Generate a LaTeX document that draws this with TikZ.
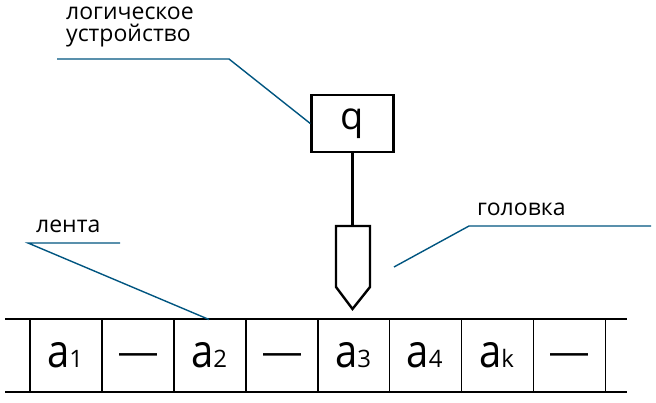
\documentclass[tikz,border=0pt]{standalone}
\usepackage{fontspec}
\setmainfont{Open Sans}
\newfontfamily\dashfont{Liberation Sans}
\definecolor{leaderblue}{RGB}{0,85,128}
\begin{document}
\begin{tikzpicture}[x=1pt,y=-1pt,
  lbl/.style={inner sep=0pt, anchor=base west, align=left, font=\fontsize{23}{22}\selectfont},
  cell/.style={inner sep=0pt, anchor=base},
  tapeline/.style={line width=2pt},
  divider/.style={line width=1.4pt},
  leader/.style={draw=leaderblue, line width=1.4pt},
  device/.style={draw, line width=2.4pt, minimum width=82pt, minimum height=57pt, inner sep=0pt, font=\fontsize{38}{38}\selectfont},
  headline/.style={line width=2.4pt, line join=miter}]
\useasboundingbox (0,0) rectangle (656,403);
\newcommand{\bigA}[1]{\scalebox{1}[1.15]{\fontsize{40}{40}\selectfont a}{\fontsize{24}{24}\selectfont #1}}
\newcommand{\blank}{\raisebox{2.5pt}{\dashfont\fontsize{38}{38}\selectfont —}}
% tape
\coordinate (tl) at (5,319.5);
\coordinate (tr) at (627,319.5);
\coordinate (bl) at (5,391.5);
\coordinate (br) at (627,391.5);
\draw[tapeline] (tl) -- (tr);
\draw[tapeline] (bl) -- (br);
\foreach \x in {30,102,174,246,318,389.5,461.5,533.5,605.5}
  \draw[divider] (\x,319.5) -- (\x,391.5);
% cells
\node[cell] (c1) at (65,367) {\bigA{1}};
\node[cell] (c2) at (138,367) {\blank};
\node[cell] (c3) at (209,367) {\bigA{2}};
\node[cell] (c4) at (282,367) {\blank};
\node[cell] (c5) at (353,367) {\bigA{3}};
\node[cell] (c6) at (424.5,367) {\bigA{4}};
\node[cell] (c7) at (496.5,367) {\bigA{k}};
\node[cell] (c8) at (569.5,367) {\blank};
% logical device
\node[device] (q) at (352.5,123.5) {q};
\coordinate (headtop) at (352.5,226);
\draw[line width=2.4pt] (q.south) -- (headtop);
\coordinate (h1) at (336,226);
\coordinate (h2) at (370,226);
\coordinate (h3) at (370,287);
\coordinate (tip) at (352.5,309);
\coordinate (h5) at (336,287);
\draw[headline] (h1) -- (h2) -- (h3) -- (tip) -- (h5) -- cycle;
% labels
\node[lbl] (ldev) at (66,42) {логическое\\[0pt]устройство};
\node[lbl] (lhead) at (477,216) {головка};
\node[lbl] (ltape) at (36,233) {лента};
% leader lines
\coordinate (d1) at (57,59);
\coordinate (d2) at (229,59);
\draw[leader] (d1) -- (d2) -- (q.west);
\coordinate (g1) at (394,267);
\coordinate (g2) at (469,226);
\coordinate (g3) at (651,226);
\draw[leader] (g1) -- (g2) -- (g3);
\coordinate (t1) at (28,243);
\coordinate (t2) at (120,243);
\coordinate (t3) at (209,319.5);
\draw[leader] (t2) -- (t1) -- (t3);
\end{tikzpicture}
\end{document}
